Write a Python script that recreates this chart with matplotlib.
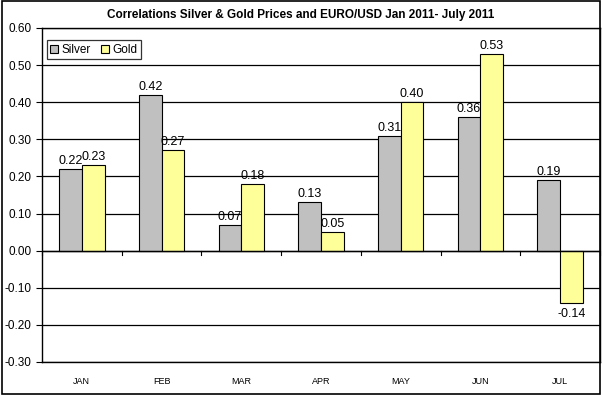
import matplotlib.pyplot as plt
import numpy as np
from matplotlib.patches import Rectangle

months = ['JAN', 'FEB', 'MAR', 'APR', 'MAY', 'JUN', 'JUL']
silver = [0.22, 0.42, 0.07, 0.13, 0.31, 0.36, 0.19]
gold = [0.23, 0.27, 0.18, 0.05, 0.40, 0.53, -0.14]

plt.rcParams['font.family'] = ['Liberation Sans', 'DejaVu Sans']

fig = plt.figure(figsize=(6.02, 3.95), dpi=100)
fig.patches.append(Rectangle((0.003, 0.003), 0.994, 0.994, transform=fig.transFigure,
                             fill=False, edgecolor='black', linewidth=1.2))
ax = fig.add_axes([42 / 602, 1 - 362 / 395, (600 - 42) / 602, (362 - 28) / 395])

x = np.arange(len(months))
w = 0.285
b1 = ax.bar(x - w / 2, silver, w, color='#C0C0C0', edgecolor='black', linewidth=0.8, label='Silver', zorder=3)
b2 = ax.bar(x + w / 2, gold, w, color='#FFFF99', edgecolor='black', linewidth=0.8, label='Gold', zorder=3)

# value labels above (or below) each bar
for bars, vals in ((b1, silver), (b2, gold)):
    for bar, v in zip(bars, vals):
        cx = bar.get_x() + bar.get_width() / 2
        if v >= 0:
            ax.annotate(f'{v:.2f}', (cx, v), xytext=(0, 1.5), textcoords='offset points',
                        ha='center', va='bottom', fontsize=9)
        else:
            ax.annotate(f'{v:.2f}', (cx, v), xytext=(0, -4), textcoords='offset points',
                        ha='center', va='top', fontsize=9)

ax.set_xlim(-0.5, len(months) - 0.5)
ax.set_ylim(-0.30, 0.60)
ax.set_yticks(np.arange(-0.3, 0.61, 0.1))
ax.yaxis.set_major_formatter(plt.FormatStrFormatter('%.2f'))
ax.tick_params(axis='y', labelsize=8.5, length=4, direction='out')
ax.grid(axis='y', color='black', linewidth=0.9, zorder=0)

# category labels along bottom, tick marks on zero line
ax.set_xticks(x)
ax.set_xticklabels(months, fontsize=6.5)
ax.tick_params(axis='x', length=0, pad=11)
for k in range(len(months) + 1):
    ax.plot([k - 0.5, k - 0.5], [0, -0.012], color='black', linewidth=0.8, clip_on=False, zorder=4)
ax.axhline(0, color='black', linewidth=1.0, zorder=4)

for s in ax.spines.values():
    s.set_color('black')
    s.set_linewidth(1.0)

leg = ax.legend(loc='upper left', bbox_to_anchor=(0.004, 0.97), ncol=2, fontsize=8.5,
                frameon=True, fancybox=False, handlelength=0.7, handleheight=0.7,
                handletextpad=0.3, columnspacing=0.8, borderpad=0.3, borderaxespad=0.2)
leg.get_frame().set_edgecolor('black')
leg.get_frame().set_linewidth(0.9)

fig.text(0.5, 1 - 15 / 395, 'Correlations Silver & Gold Prices and EURO/USD Jan 2011- July 2011',
         ha='center', va='center', fontsize=8.5, fontweight='bold')

fig.savefig('out.png', dpi=100)
